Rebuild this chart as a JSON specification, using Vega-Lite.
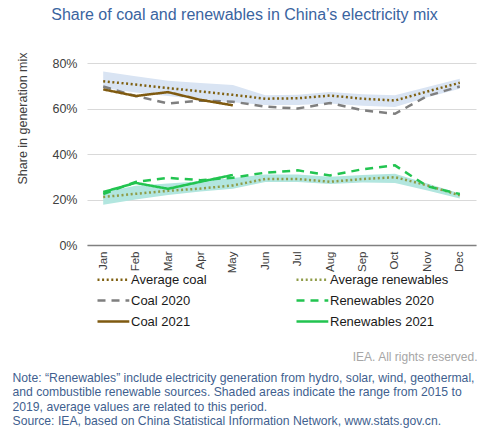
{
  "$schema": "https://vega.github.io/schema/vega-lite/v6.json",
  "padding": {"left": 12, "top": 6, "right": 5, "bottom": 5},
  "background": "white",
  "title": {
    "text": "Share of coal and renewables in China’s electricity mix",
    "font": "Liberation Sans",
    "fontSize": 16,
    "fontWeight": "normal",
    "color": "#3a64a0",
    "anchor": "middle",
    "frame": "bounds",
    "offset": 29
  },
  "config": {
    "view": {"stroke": null},
    "font": "Liberation Sans",
    "axis": {"labelFont": "Liberation Sans", "titleFont": "Liberation Sans"}
  },
  "datasets": {
    "lines": [
      {"month": "Jan", "series": "Average coal", "value": 0.72},
      {"month": "Feb", "series": "Average coal", "value": 0.705},
      {"month": "Mar", "series": "Average coal", "value": 0.69},
      {"month": "Apr", "series": "Average coal", "value": 0.675},
      {"month": "May", "series": "Average coal", "value": 0.66},
      {"month": "Jun", "series": "Average coal", "value": 0.643},
      {"month": "Jul", "series": "Average coal", "value": 0.645},
      {"month": "Aug", "series": "Average coal", "value": 0.657},
      {"month": "Sep", "series": "Average coal", "value": 0.643},
      {"month": "Oct", "series": "Average coal", "value": 0.635},
      {"month": "Nov", "series": "Average coal", "value": 0.675},
      {"month": "Dec", "series": "Average coal", "value": 0.713},
      {"month": "Jan", "series": "Coal 2020", "value": 0.697},
      {"month": "Feb", "series": "Coal 2020", "value": 0.655},
      {"month": "Mar", "series": "Coal 2020", "value": 0.622},
      {"month": "Apr", "series": "Coal 2020", "value": 0.635},
      {"month": "May", "series": "Coal 2020", "value": 0.63},
      {"month": "Jun", "series": "Coal 2020", "value": 0.608},
      {"month": "Jul", "series": "Coal 2020", "value": 0.6},
      {"month": "Aug", "series": "Coal 2020", "value": 0.624},
      {"month": "Sep", "series": "Coal 2020", "value": 0.592},
      {"month": "Oct", "series": "Coal 2020", "value": 0.577},
      {"month": "Nov", "series": "Coal 2020", "value": 0.655},
      {"month": "Dec", "series": "Coal 2020", "value": 0.697},
      {"month": "Jan", "series": "Coal 2021", "value": 0.684},
      {"month": "Feb", "series": "Coal 2021", "value": 0.655},
      {"month": "Mar", "series": "Coal 2021", "value": 0.672},
      {"month": "Apr", "series": "Coal 2021", "value": 0.638},
      {"month": "May", "series": "Coal 2021", "value": 0.614},
      {"month": "Jan", "series": "Average renewables", "value": 0.211},
      {"month": "Feb", "series": "Average renewables", "value": 0.225},
      {"month": "Mar", "series": "Average renewables", "value": 0.238},
      {"month": "Apr", "series": "Average renewables", "value": 0.248},
      {"month": "May", "series": "Average renewables", "value": 0.262},
      {"month": "Jun", "series": "Average renewables", "value": 0.29},
      {"month": "Jul", "series": "Average renewables", "value": 0.29},
      {"month": "Aug", "series": "Average renewables", "value": 0.278},
      {"month": "Sep", "series": "Average renewables", "value": 0.29},
      {"month": "Oct", "series": "Average renewables", "value": 0.298},
      {"month": "Nov", "series": "Average renewables", "value": 0.262},
      {"month": "Dec", "series": "Average renewables", "value": 0.218},
      {"month": "Jan", "series": "Renewables 2020", "value": 0.224},
      {"month": "Feb", "series": "Renewables 2020", "value": 0.277},
      {"month": "Mar", "series": "Renewables 2020", "value": 0.295},
      {"month": "Apr", "series": "Renewables 2020", "value": 0.285},
      {"month": "May", "series": "Renewables 2020", "value": 0.296},
      {"month": "Jun", "series": "Renewables 2020", "value": 0.318},
      {"month": "Jul", "series": "Renewables 2020", "value": 0.328},
      {"month": "Aug", "series": "Renewables 2020", "value": 0.306},
      {"month": "Sep", "series": "Renewables 2020", "value": 0.333},
      {"month": "Oct", "series": "Renewables 2020", "value": 0.35},
      {"month": "Nov", "series": "Renewables 2020", "value": 0.258},
      {"month": "Dec", "series": "Renewables 2020", "value": 0.224},
      {"month": "Jan", "series": "Renewables 2021", "value": 0.233},
      {"month": "Feb", "series": "Renewables 2021", "value": 0.273},
      {"month": "Mar", "series": "Renewables 2021", "value": 0.247},
      {"month": "Apr", "series": "Renewables 2021", "value": 0.278},
      {"month": "May", "series": "Renewables 2021", "value": 0.308}
    ],
    "bands": [
      {"month": "Jan", "group": "coal", "lo": 0.69, "hi": 0.763},
      {"month": "Feb", "group": "coal", "lo": 0.67, "hi": 0.742},
      {"month": "Mar", "group": "coal", "lo": 0.655, "hi": 0.722},
      {"month": "Apr", "group": "coal", "lo": 0.64, "hi": 0.712},
      {"month": "May", "group": "coal", "lo": 0.628, "hi": 0.703},
      {"month": "Jun", "group": "coal", "lo": 0.615, "hi": 0.658},
      {"month": "Jul", "group": "coal", "lo": 0.615, "hi": 0.66},
      {"month": "Aug", "group": "coal", "lo": 0.622, "hi": 0.673},
      {"month": "Sep", "group": "coal", "lo": 0.612, "hi": 0.663},
      {"month": "Oct", "group": "coal", "lo": 0.607, "hi": 0.658},
      {"month": "Nov", "group": "coal", "lo": 0.65, "hi": 0.695},
      {"month": "Dec", "group": "coal", "lo": 0.687, "hi": 0.731},
      {"month": "Jan", "group": "ren", "lo": 0.177, "hi": 0.232},
      {"month": "Feb", "group": "ren", "lo": 0.2, "hi": 0.26},
      {"month": "Mar", "group": "ren", "lo": 0.22, "hi": 0.27},
      {"month": "Apr", "group": "ren", "lo": 0.235, "hi": 0.28},
      {"month": "May", "group": "ren", "lo": 0.247, "hi": 0.295},
      {"month": "Jun", "group": "ren", "lo": 0.277, "hi": 0.31},
      {"month": "Jul", "group": "ren", "lo": 0.277, "hi": 0.31},
      {"month": "Aug", "group": "ren", "lo": 0.268, "hi": 0.3},
      {"month": "Sep", "group": "ren", "lo": 0.275, "hi": 0.308},
      {"month": "Oct", "group": "ren", "lo": 0.272, "hi": 0.313},
      {"month": "Nov", "group": "ren", "lo": 0.24, "hi": 0.27},
      {"month": "Dec", "group": "ren", "lo": 0.204, "hi": 0.226}
    ]
  },
  "width": 389,
  "height": 182,
  "resolve": {"scale": {"y": "independent"}, "axis": {"y": "independent"}},
  "layer": [
    {
      "layer": [
        {
          "data": {"name": "bands"},
          "mark": {"type": "area", "opacity": 1},
          "encoding": {
            "x": {"field": "month", "type": "ordinal", "sort": ["Jan","Feb","Mar","Apr","May","Jun","Jul","Aug","Sep","Oct","Nov","Dec"],
                  "scale": {"type": "point", "padding": 0.5},
                  "axis": {
                    "labelAngle": 270, "labelFontSize": 11.5, "labelColor": "#404040", "labelPadding": 6,
                    "ticks": false, "domainColor": "#808080", "domainWidth": 1.5, "grid": false,
                    "title": [
                      "Note: “Renewables” include electricity generation from hydro, solar, wind, geothermal,",
                      "and combustible renewable sources. Shaded areas indicate the range from 2015 to",
                      "2019, average values are related to this period.",
                      "Source: IEA, based on China Statistical Information Network, www.stats.gov.cn."
                    ],
                    "titleFontSize": 12.2, "titleFontWeight": "normal", "titleColor": "#3f5f8f",
                    "titleAlign": "left", "titleAnchor": "start", "titleBaseline": "alphabetic",
                    "titleX": -75, "titleY": 136, "titleLineHeight": 14.5
                  }},
            "y": {"field": "lo", "type": "quantitative", "scale": {"domain": [0, 0.8]},
                  "axis": {"format": ".0%", "values": [0, 0.2, 0.4, 0.6, 0.8], "ticks": false, "domain": false,
                           "gridColor": "#d9d9d9", "gridWidth": 1.2, "labelFontSize": 12.5, "labelColor": "#404040", "labelPadding": 10,
                           "title": "Share in generation mix", "titleFontSize": 12.5, "titleFontWeight": "normal", "titleColor": "#404040",
                           "titleX": -65, "titleY": 55, "titleAngle": 270, "titleAlign": "center", "titleBaseline": "middle"}},
            "y2": {"field": "hi"},
            "fill": {"field": "group", "type": "nominal", "scale": {"domain": ["coal", "ren"], "range": ["#d9e4f3", "#b2e6df"]}, "legend": null},
            "detail": {"field": "group"}
          }
        },
        {
          "data": {"name": "lines"},
          "mark": {"type": "line", "strokeWidth": 2.5},
          "encoding": {
            "x": {"field": "month", "type": "ordinal", "sort": ["Jan","Feb","Mar","Apr","May","Jun","Jul","Aug","Sep","Oct","Nov","Dec"]},
            "y": {"field": "value", "type": "quantitative"},
            "color": {"field": "series", "type": "nominal",
                      "scale": {"domain": ["Average coal", "Coal 2020", "Coal 2021", "Average renewables", "Renewables 2020", "Renewables 2021"],
                                "range": ["#7f6010", "#7f7f7f", "#7f5a10", "#8f9c48", "#22c450", "#22c450"]},
                      "legend": {"orient": "none", "legendX": 9, "legendY": 203, "columns": 2, "columnPadding": 84,
                                 "rowPadding": 0, "symbolType": "M-1,0H1.65", "symbolSize": 576, "symbolStrokeWidth": 2.5,
                                 "labelFontSize": 13, "labelColor": "#1a1a1a", "labelOffset": 8, "title": null, "padding": 0}},
            "strokeDash": {"field": "series", "type": "nominal",
                           "scale": {"domain": ["Average coal", "Coal 2020", "Coal 2021", "Average renewables", "Renewables 2020", "Renewables 2021"],
                                     "range": [[2, 2.6], [8, 6], [1, 0], [2, 2.6], [8, 6], [1, 0]]},
                           "legend": {"orient": "none", "legendX": 9, "legendY": 203, "columns": 2, "columnPadding": 84,
                                 "rowPadding": 0, "symbolType": "M-1,0H1.65", "symbolSize": 576, "symbolStrokeWidth": 2.5,
                                 "labelFontSize": 13, "labelColor": "#1a1a1a", "labelOffset": 8, "title": null, "padding": 0}},
            "strokeWidth": {"condition": {"test": "indexof(datum.series, '2021') >= 0", "value": 2}, "value": 2.5}
          }
        }
      ]
    },
    {
      "data": {"name": "lines"},
      "mark": {"type": "rule", "opacity": 0},
      "encoding": {
        "y": {"field": "value", "type": "quantitative",
              "axis": {"orient": "right", "labels": false, "ticks": false, "domain": false, "grid": false,
                       "title": "IEA. All rights reserved.", "titleAngle": 0, "titleFontSize": 12, "titleFontWeight": "normal",
                       "titleColor": "#a6a6a6", "titleAlign": "right", "titleBaseline": "alphabetic", "titleX": 1, "titleY": 297}}
      }
    }
  ]
}
